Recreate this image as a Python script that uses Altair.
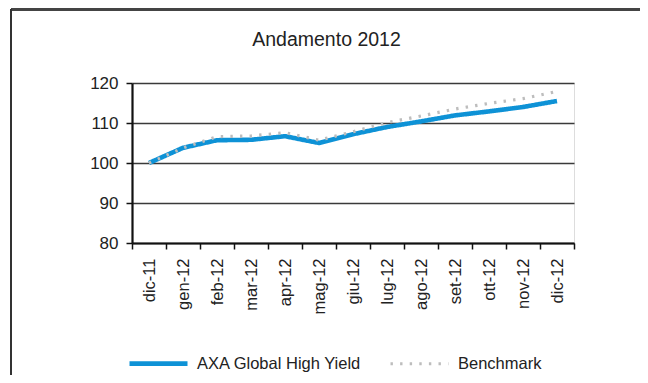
import altair as alt
import pandas as pd

title_text = ["Andamento 2012"]
months = ["dic-11", "gen-12", "feb-12", "mar-12", "apr-12", "mag-12", "giu-12",
          "lug-12", "ago-12", "set-12", "ott-12", "nov-12", "dic-12"]
axa = [100, 103.8, 105.7, 105.8, 106.7, 105.0, 107.2, 109.0, 110.4, 111.9, 112.9, 114.0, 115.5]
bench = [100, 103.75, 106.6, 106.75, 107.6, 105.7, 107.8, 110.1, 111.75, 113.5, 114.9, 116.1, 117.9]
series = ["AXA Global High Yield", "Benchmark"]
y_ticks = [80, 90, 100, 110, 120]

rows = []
for m, v in zip(months, axa):
    rows.append({"mese": m, "serie": series[0], "valore": v})
for m, v in zip(months, bench):
    rows.append({"mese": m, "serie": series[1], "valore": v})
df = pd.DataFrame(rows)

FONT = "Liberation Sans"
TXT = "#222222"
BLUE = "#0E92D6"
GRAY = "#BDBDBD"

lines = alt.Chart(df).mark_line(strokeCap="butt", strokeJoin="round").encode(
    x=alt.X("mese:N", sort=months, title=None,
            scale=alt.Scale(type="band", paddingInner=0, paddingOuter=0),
            axis=alt.Axis(labelAngle=-90, labelFont=FONT, labelFontSize=16.5,
                          labelColor=TXT, labelPadding=9, tickBand="extent",
                          tickSize=6, tickColor="#111", tickWidth=1.5,
                          domainColor="#111", domainWidth=2, grid=False,
                          labelBaseline="middle")),
    y=alt.Y("valore:Q", title=None,
            scale=alt.Scale(domain=[80, 120], nice=False, zero=False),
            axis=alt.Axis(values=y_ticks, labelFont=FONT, labelFontSize=17,
                          labelColor=TXT, labelPadding=8, tickSize=6,
                          tickColor="#111", tickWidth=1.5, domainColor="#111",
                          domainWidth=2.2, gridColor="#3a3a3a", gridWidth=1.6)),
    color=alt.Color("serie:N", title=None,
                    scale=alt.Scale(domain=series, range=[BLUE, GRAY]),
                    legend=alt.Legend(
                        orient="none", legendX=-5, legendY=249,
                        direction="horizontal", columns=2,
                        symbolType="stroke", symbolSize=3364,
                        symbolStrokeWidth=3,
                        labelFont=FONT, labelLimit=400,
                        labelFontSize=16.5, labelColor=TXT, labelOffset=7,
                        columnPadding=22, padding=0)),
    strokeDash=alt.StrokeDash("serie:N", scale=alt.Scale(domain=series, range=[[1, 0], [2.4, 7.2]]), legend=None),
    strokeWidth=alt.StrokeWidth("serie:N", scale=alt.Scale(domain=series, range=[4.6, 3.2]), legend=None),
)

title = alt.Chart(pd.DataFrame({"t": title_text})).mark_text(
    font=FONT, fontSize=19.5, color=TXT, align="center", baseline="alphabetic"
).encode(text="t:N", x=alt.value(194.5), y=alt.value(-37))

frame_top = alt.Chart(df).mark_rule(color="#444", strokeWidth=2).encode(
    x=alt.value(-121), x2=alt.value(700), y=alt.value(-73.5))
frame_left = alt.Chart(df).mark_rule(color="#333", strokeWidth=2).encode(
    x=alt.value(-121), y=alt.value(-73.5), y2=alt.value(400))

chart = alt.layer(lines, title, frame_top, frame_left).properties(
    width=442, height=160,
    autosize=alt.AutoSizeParams(type="none"),
    padding={"left": 124, "top": 75, "right": 66, "bottom": 132},
).configure_view(stroke=None).configure(background="white")

chart.save("out.html", embed_options={"renderer": "svg", "actions": False})
